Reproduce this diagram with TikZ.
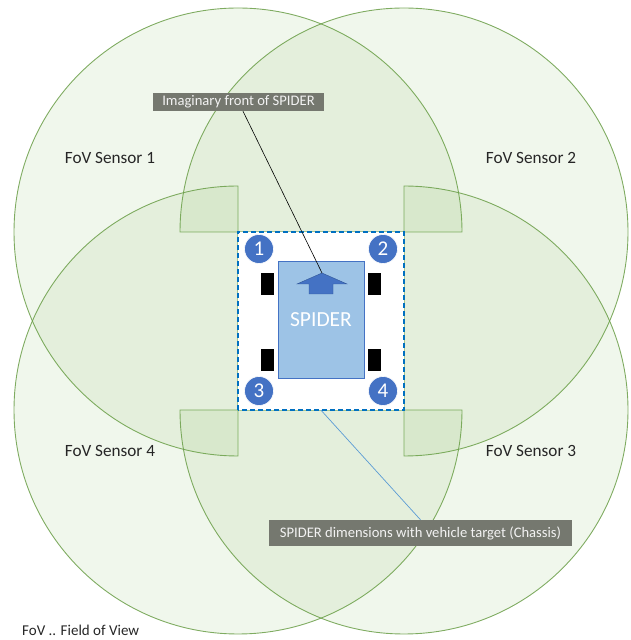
\documentclass[tikz,border=0pt]{standalone}
\usepackage{fontspec}
\setmainfont{Carlito}
\definecolor{fovfill}{HTML}{70AD47}
\definecolor{fovline}{HTML}{6A9E48}
\definecolor{dashblue}{HTML}{0070C0}
\definecolor{bodyfill}{HTML}{9DC3E6}
\definecolor{darkblue}{HTML}{4472C4}
\definecolor{edgeblue}{HTML}{2F5597}
\definecolor{labgray}{RGB}{117,120,111}
\definecolor{leadblue}{HTML}{5B9BD5}
\definecolor{txt}{HTML}{262626}
\tikzset{
  x=1pt, y=1pt,
  fov/.style={fill=fovfill, fill opacity=0.1, draw=fovline, draw opacity=0.85, line width=0.9pt},
  fovlabel/.style={text=txt, font=\fontsize{17.2}{19}\selectfont, inner sep=0pt},
  wheel/.style={fill=black, draw=none, minimum width=13pt, minimum height=22pt, inner sep=0pt},
  num/.style={circle, fill=darkblue, draw=white, line width=0.6pt, minimum size=29pt, inner sep=0pt, text=white, font=\fontsize{21}{23}\selectfont},
  graylab/.style={fill=labgray, text=white!95!black, inner sep=0pt, font=\fontsize{14.6}{16}\selectfont}
}
\begin{document}
\begin{tikzpicture}
\useasboundingbox (0,0) rectangle (631,640);
% FoV pies
\coordinate (c1) at (238,408);
\coordinate (c2) at (404,408);
\coordinate (c3) at (238,230);
\coordinate (c4) at (404,230);
\path[fov] (c1) -- ++(224,0) arc[start angle=0,end angle=270,radius=224] -- cycle;
\path[fov] (c2) -- ++(0,-224) arc[start angle=-90,end angle=180,radius=224] -- cycle;
\path[fov] (c3) -- ++(0,224) arc[start angle=90,end angle=360,radius=224] -- cycle;
\path[fov] (c4) -- ++(-224,0) arc[start angle=180,end angle=450,radius=224] -- cycle;
% labels
\node[fovlabel] (l1) at (110,482) {FoV Sensor 1};
\node[fovlabel] (l2) at (531,482) {FoV Sensor 2};
\node[fovlabel] (l4) at (110,189) {FoV Sensor 4};
\node[fovlabel] (l3) at (531,189) {FoV Sensor 3};
\node[fovlabel, anchor=west, font=\fontsize{15}{17}\selectfont] (legend) at (22,10) {FoV .. Field of View};
% chassis box
\node[fill=white, draw=none, minimum width=166pt, minimum height=178pt, inner sep=0pt] (box) at (321,319) {};
\draw[dashblue, line width=1.6pt, dash pattern=on 5pt off 3pt] (box.south west) rectangle (box.north east);
% body
\node[fill=bodyfill, draw=darkblue, line width=0.6pt, minimum width=86pt, minimum height=117pt, inner sep=0pt] (body) at (321,320.5) {};
\node[text=white, font=\fontsize{21.5}{24}\selectfont, inner sep=0pt] (spider) at (321,320) {SPIDER};
% arrow
\filldraw[fill=darkblue, draw=edgeblue, line width=0.4pt]
  (309,346) -- (309,356) -- (297,356) -- (322,367) -- (347,356) -- (333,356) -- (333,346) -- cycle;
\coordinate (tip) at (322,367);
% wheels
\node[wheel] (w1) at (267.5,356) {};
\node[wheel] (w2) at (374.5,356) {};
\node[wheel] (w3) at (267.5,279.5) {};
\node[wheel] (w4) at (374.5,279.5) {};
% sensor numbers
\node[num] (s1) at (259,391) {1};
\node[num] (s2) at (383,391) {2};
\node[num] (s3) at (259,249) {3};
\node[num] (s4) at (383,249) {4};
% callouts
\node[graylab, minimum width=171pt, minimum height=18pt] (lab1) at (238.5,538) {Imaginary front of SPIDER};
\node[graylab, minimum width=303pt, minimum height=26pt] (lab2) at (420.5,107) {SPIDER dimensions with vehicle target (Chassis)};
\draw[black, line width=0.6pt] (lab1) -- (tip);
\draw[leadblue, line width=0.7pt] (box.south) -- (lab2.north);
\end{tikzpicture}
\end{document}
